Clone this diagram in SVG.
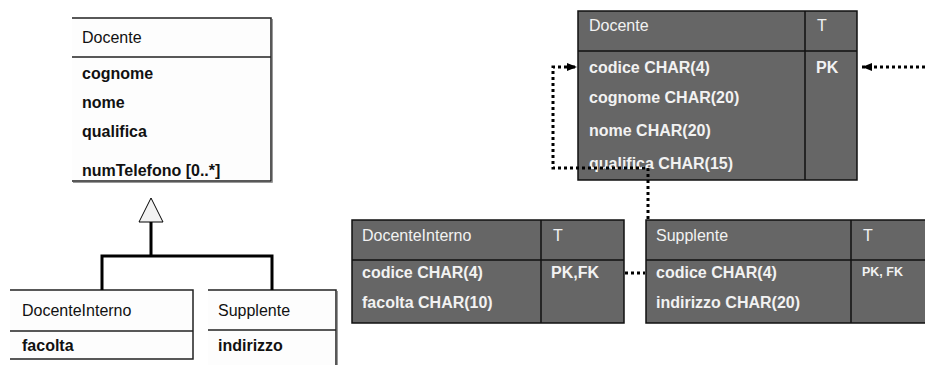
<svg xmlns="http://www.w3.org/2000/svg" width="925" height="365" viewBox="0 0 925 365">
<defs>
<style>
.uml{fill:#fdfdfd;stroke:none}
.ln{stroke:#222;stroke-width:1.5;fill:none}
.sh{stroke:#999;stroke-width:1;fill:none}
.t{font-family:"Liberation Sans",Arial,sans-serif;font-size:16px;fill:#111}
.b{font-family:"Liberation Sans",Arial,sans-serif;font-size:16px;font-weight:bold;fill:#111}
.er{fill:#666;stroke:#111;stroke-width:1.5}
.erl{stroke:#111;stroke-width:1.5;fill:none}
.wt{font-family:"Liberation Sans",Arial,sans-serif;font-size:16px;fill:#f2f2f2}
.wb{font-family:"Liberation Sans",Arial,sans-serif;font-size:16px;font-weight:bold;fill:#f2f2f2}
.dot{stroke:#000;stroke-width:3;stroke-dasharray:3 3;fill:none}
.gen{stroke:#000;stroke-width:3;fill:none}
</style>
<marker id="ah" viewBox="0 0 10 10" refX="10" refY="5" markerWidth="10" markerHeight="10" markerUnits="userSpaceOnUse" orient="auto">
<path d="M0,1 L10,5 L0,9 Z" fill="#000"/>
</marker>
</defs>

<g id="uml-docente">
<rect class="uml" x="72" y="18" width="199" height="163"/>
<path class="sh" d="M272.5 19 V182.5 H73"/>
<path class="ln" d="M72 18 H271 V181 H72 M72 57 H271"/>
<text class="t" x="82" y="43">Docente</text>
<text class="b" x="82" y="79">cognome</text>
<text class="b" x="82" y="108">nome</text>
<text class="b" x="82" y="137">qualifica</text>
<text class="b" x="82" y="176">numTelefono [0..*]</text>
</g>

<g id="uml-docenteinterno">
<rect class="uml" x="10" y="290" width="183" height="69"/>
<path class="ln" d="M10 290 H193 V359 H10 M10 331 H193"/>
<text class="t" x="22" y="316">DocenteInterno</text>
<text class="b" x="22" y="351">facolta</text>
</g>

<g id="uml-supplente">
<rect class="uml" x="208" y="290" width="128" height="80"/>
<path class="sh" d="M337.5 291 V365"/>
<path class="ln" d="M208 290 H336 V365 M208 330 H336"/>
<text class="t" x="218" y="316">Supplente</text>
<text class="b" x="218" y="351">indirizzo</text>
</g>

<g id="er-docente">
<rect class="er" x="578" y="11" width="279" height="169"/>
<path class="erl" d="M805 11 V180 M578 51 H857"/>
<text class="wt" x="589" y="31">Docente</text>
<text class="wt" x="817" y="31">T</text>
<text class="wb" x="589" y="73">codice CHAR(4)</text>
<text class="wb" x="816" y="73">PK</text>
<text class="wb" x="589" y="103">cognome CHAR(20)</text>
<text class="wb" x="589" y="136">nome CHAR(20)</text>
<text class="wb" x="589" y="169">qualifica CHAR(15)</text>
</g>

<g id="er-docenteinterno">
<rect class="er" x="352" y="220" width="272" height="103"/>
<path class="erl" d="M541 220 V323 M352 260 H624"/>
<text class="wt" x="362" y="241">DocenteInterno</text>
<text class="wt" x="553" y="241">T</text>
<text class="wb" x="362" y="278">codice CHAR(4)</text>
<text class="wb" x="551" y="278">PK,FK</text>
<text class="wb" x="362" y="308">facolta CHAR(10)</text>
</g>

<g id="er-supplente">
<rect class="er" x="646" y="220" width="285" height="103"/>
<path class="erl" d="M851 220 V323 M646 260 H931"/>
<text class="wt" x="656" y="241">Supplente</text>
<text class="wt" x="863" y="241">T</text>
<text class="wb" x="656" y="278">codice CHAR(4)</text>
<text class="wb" x="862" y="276" style="font-size:12.5px">PK, FK</text>
<text class="wb" x="656" y="308">indirizzo CHAR(20)</text>
</g>

<g id="connectors">
<polygon points="151,198 139,222 163,222" fill="#f2f2f2" stroke="#000" stroke-width="1"/>
<path class="gen" d="M151 222 V256 M102 256 H272 M102 254.5 V290 M272 254.5 V290"/>
<path class="dot" d="M648 219 V168 H553 V67 H566"/>
<path class="dot" d="M566 67 H577" marker-end="url(#ah)"/>
<path class="dot" d="M925 67 H862" marker-end="url(#ah)"/>
<path class="dot" d="M625 273 H645"/>
</g>
</svg>
